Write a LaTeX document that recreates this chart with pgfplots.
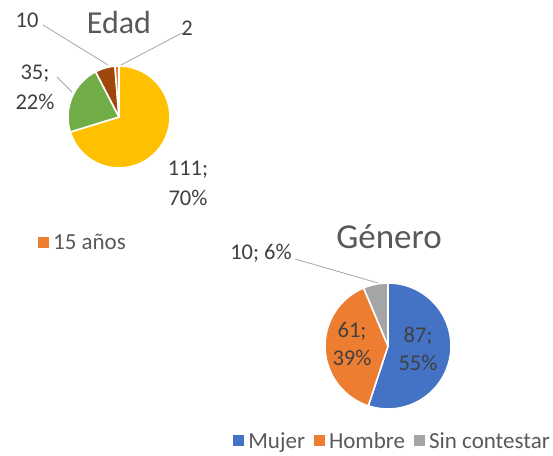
\documentclass[border=0pt]{standalone}
\usepackage{fontspec}
\setmainfont{Carlito}
\usepackage{pgfplots}
\usepackage{pgfplotstable}
\pgfplotsset{compat=1.18}
\definecolor{cYel}{HTML}{FFC000}
\definecolor{cGrn}{HTML}{70AD47}
\definecolor{cBrn}{HTML}{9E480E}
\definecolor{cOrg}{HTML}{ED7D31}
\definecolor{cBlu}{HTML}{4472C4}
\definecolor{cGry}{HTML}{A5A5A5}
\definecolor{txt}{HTML}{404040}
\definecolor{ttl}{HTML}{595959}
\definecolor{lead}{HTML}{A6A6A6}

\pgfplotstableread{
valor
111
35
10
2
}\edadtab
\pgfplotstableread{
valor
87
61
10
}\generotab

\newcommand\pieslice[6]{%
  \fill[#6, draw=white, line width=1.6pt, line join=round]
    (axis cs:#1,#2) -- ++({90-(#4)}:#3pt)
    arc[start angle={90-(#4)}, end angle={90-(#5)}, radius=#3pt] -- cycle;}

\begin{document}
\pgfplotstablegetelem{0}{valor}\of\edadtab \edef\eA{\pgfplotsretval}%
\pgfplotstablegetelem{1}{valor}\of\edadtab \edef\eB{\pgfplotsretval}%
\pgfplotstablegetelem{2}{valor}\of\edadtab \edef\eC{\pgfplotsretval}%
\pgfplotstablegetelem{3}{valor}\of\edadtab \edef\eD{\pgfplotsretval}%
\pgfmathsetmacro\eT{\eA+\eB+\eC+\eD}%
\pgfmathsetmacro\eaA{360*(\eA/\eT)}%
\pgfmathsetmacro\eaB{\eaA+360*(\eB/\eT)}%
\pgfmathsetmacro\eaC{\eaB+360*(\eC/\eT)}%
\pgfplotstablegetelem{0}{valor}\of\generotab \edef\gA{\pgfplotsretval}%
\pgfplotstablegetelem{1}{valor}\of\generotab \edef\gB{\pgfplotsretval}%
\pgfplotstablegetelem{2}{valor}\of\generotab \edef\gC{\pgfplotsretval}%
\pgfmathsetmacro\gT{\gA+\gB+\gC}%
\pgfmathsetmacro\gaA{360*(\gA/\gT)}%
\pgfmathsetmacro\gaB{\gaA+360*(\gB/\gT)}%
\begin{tikzpicture}
\path[use as bounding box] (0,0) rectangle (553pt,455pt);
\pgfplotsset{
  every axis/.append style={
    at={(0,0)}, anchor=south west, width=553pt, height=455pt, scale only axis,
    xmin=0, xmax=553, ymin=0, ymax=455, hide axis, clip=false,
    legend image code/.code={\fill[#1] (0pt,-5.5pt) rectangle (11pt,5.5pt);},
    legend style={draw=none, fill=none, inner sep=0pt, outer sep=0pt,
      font=\fontsize{23}{26}\selectfont, text=ttl,
      nodes={inner xsep=4.5pt, inner ysep=0pt}},
    legend cell align=left,
  }}
% ---- Edad ----
\begin{axis}[legend style={at={(axis description cs:0.068,0.466)}, anchor=west}]
\pieslice{119}{338}{51}{0}{\eaA}{cYel}
\pieslice{119}{338}{51}{\eaA}{\eaB}{cGrn}
\pieslice{119}{338}{51}{\eaB}{\eaC}{cBrn}
\pieslice{119}{338}{51}{\eaC}{360}{cOrg}
\addlegendimage{fill=cOrg, draw=none}
\addlegendentry{15 años}
\draw[lead, line width=0.8pt] (axis cs:43,430) -- (axis cs:108,390);
\draw[lead, line width=0.8pt] (axis cs:182,422) -- (axis cs:121,390);
\draw[lead, line width=0.8pt] (axis cs:57,378) -- (axis cs:72,363);
\node[font=\fontsize{32}{38}\selectfont, text=ttl] at (axis cs:119,432) {Edad};
\begin{scope}[every node/.style={font=\fontsize{22.5}{30}\selectfont, text=txt, align=center, inner sep=0pt}]
\node at (axis cs:27,435) {10};
\node at (axis cs:187,427) {2};
\node at (axis cs:35,368) {35;\\22\%};
\node at (axis cs:188,272) {111;\\70\%};
\end{scope}
\end{axis}
% ---- Genero ----
\begin{axis}[legend columns=3,
  legend style={at={(axis description cs:0.421,0.031)}, anchor=west,
    /tikz/every even column/.append style={column sep=4pt}}]
\pieslice{388}{109}{63}{0}{\gaA}{cBlu}
\pieslice{388}{109}{63}{\gaA}{\gaB}{cOrg}
\pieslice{388}{109}{63}{\gaB}{360}{cGry}
\addlegendimage{fill=cBlu, draw=none}
\addlegendentry{Mujer}
\addlegendimage{fill=cOrg, draw=none}
\addlegendentry{Hombre}
\addlegendimage{fill=cGry, draw=none}
\addlegendentry{Sin contestar}
\draw[lead, line width=0.8pt] (axis cs:295,196) -- (axis cs:378,172);
\node[font=\fontsize{35}{40}\selectfont, text=ttl] at (axis cs:389,218) {Género};
\begin{scope}[every node/.style={font=\fontsize{22.5}{28}\selectfont, text=txt, align=center, inner sep=0pt}]
\node at (axis cs:261,202) {10; 6\%};
\node at (axis cs:418,106) {87;\\55\%};
\node at (axis cs:352,111) {61;\\39\%};
\end{scope}
\end{axis}
\end{tikzpicture}
\end{document}
